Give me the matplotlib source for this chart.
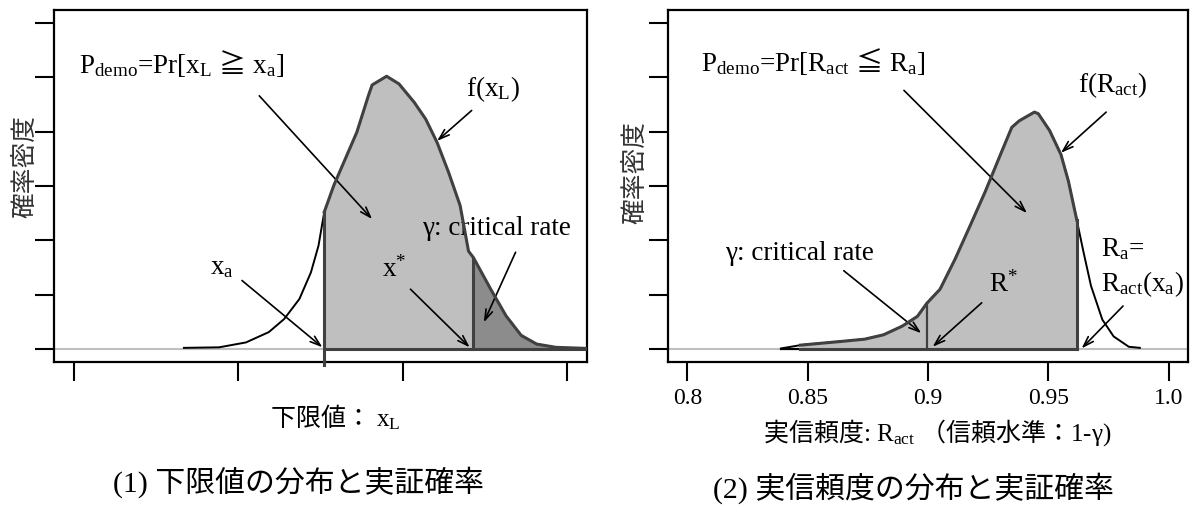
import numpy as np
import matplotlib
matplotlib.use('Agg')
import matplotlib.pyplot as plt

plt.rcParams['font.family'] = ['Liberation Serif', 'Noto Sans CJK JP']
plt.rcParams['mathtext.fontset'] = 'custom'
plt.rcParams['mathtext.rm'] = 'Liberation Serif'
plt.rcParams['mathtext.it'] = 'Liberation Serif:italic'
plt.rcParams['mathtext.sf'] = 'Noto Sans CJK JP'   # used for the CJK bits inside math strings
plt.rcParams['mathtext.fallback'] = 'stix'

# (1) density of the lower limit x_L
x_L = [0.67, 0.884, 1.047, 1.186, 1.279, 1.372, 1.442, 1.488, 1.523, 1.581,
       1.651, 1.721, 1.791, 1.814, 1.902, 1.977, 2.07, 2.14, 2.209, 2.279,
       2.349, 2.40, 2.43, 2.535, 2.628, 2.72, 2.814, 2.93, 3.116]
f_xL = [0.02, 0.03, 0.12, 0.31, 0.55, 0.92, 1.41, 1.90, 2.52, 3.01,
        3.50, 3.99, 4.66, 4.86, 5.02, 4.88, 4.54, 4.23, 3.80, 3.25,
        2.64, 1.80, 1.68, 1.10, 0.61, 0.25, 0.09, 0.03, 0.01]
x_a = 1.523
x_star = 2.43

# (2) density of the actual reliability R_act
R_act = [0.839, 0.847, 0.8643, 0.8737, 0.8815, 0.8893, 0.8956, 0.8995, 0.905,
         0.9113, 0.9176, 0.9238, 0.9301, 0.9348, 0.9379, 0.9442, 0.9458,
         0.9505, 0.9552, 0.9583, 0.9618, 0.9646, 0.9677, 0.9724, 0.9771,
         0.9834, 0.988]
f_R = [0.01, 0.07, 0.14, 0.18, 0.26, 0.42, 0.60, 0.84, 1.10,
       1.66, 2.28, 2.90, 3.58, 4.08, 4.20, 4.36, 4.33,
       4.02, 3.58, 3.09, 2.37, 1.78, 1.16, 0.54, 0.23,
       0.04, 0.02]
R_start = 0.847
R_star = 0.8995
R_a = 0.9618
R_ticks = [0.8, 0.85, 0.9, 0.95, 1.0]
R_ticklabels = ['0.8', '0.85', '0.9', '0.95', '1.0']

LIGHT = '#bfbfbf'
DARK = '#8c8c8c'
EDGE = '#404040'
ann = dict(fontsize=19.5)
arw = dict(arrowstyle='->,head_length=0.75,head_width=0.25', color='black', lw=1.2,
           shrinkA=0, shrinkB=0)

fig = plt.figure(figsize=(11.94, 5.12), dpi=100)
ax1 = fig.add_axes([0.0452, 0.293, 0.4464, 0.6875])
ax2 = fig.add_axes([0.5595, 0.293, 0.4355, 0.6875])

for ax in (ax1, ax2):
    for s in ax.spines.values():
        s.set_linewidth(1.6)
    ax.tick_params(direction='out', length=14, width=1.5, labelsize=17, pad=5)
    ax.set_yticks(range(7))
    ax.set_yticklabels([])
    ax.set_ylim(-0.24, 6.24)

# ---- panel 1
x = np.array(x_L)
y = np.array(f_xL)
ax1.axhline(0, color=LIGHT, lw=1.5, zorder=1)
left = x <= x_a
ax1.plot(x[left], y[left], color='black', lw=1.4, zorder=2)
m = x >= x_a
ax1.fill_between(x[m], 0, y[m], color=LIGHT, lw=0, zorder=2)
t = x >= x_star
ax1.fill_between(x[t], 0, y[t], color=DARK, lw=0, zorder=3)
ax1.plot(x[m], y[m], color=EDGE, lw=2.2, zorder=4)
ax1.plot([x_a, x[-1]], [0, 0], color=EDGE, lw=2.2, zorder=4)
ax1.plot([x_a, x_a], [-0.3, y[x == x_a][0]], color=EDGE, lw=2.2, zorder=4, clip_on=False)
ax1.plot([x_star, x_star], [0, y[x == x_star][0]], color=EDGE, lw=2.2, zorder=4)
ax1.set_xlim(-0.12, 3.12)
ax1.set_xticks([0, 1, 2, 3])
ax1.set_xticklabels([])

ax1.text(0.035, 5.25, 'P$_\\mathrm{demo}$=Pr[x$_\\mathrm{L}$ $\\mathsf{≧}$ x$_\\mathrm{a}$]',
         va='center', **ann)
ax1.annotate('', xy=(1.814, 2.39), xytext=(1.128, 4.66), arrowprops=arw)
ax1.text(2.384, 4.79, 'f(x$_\\mathrm{L}$)', va='center', **ann)
ax1.annotate('', xy=(2.209, 3.83), xytext=(2.419, 4.39), arrowprops=arw)
ax1.text(2.116, 2.21, 'γ: critical rate', va='center', **ann)
ax1.annotate('', xy=(2.493, 0.49), xytext=(2.686, 1.78), arrowprops=arw)
ax1.text(1.872, 1.47, 'x$^{\\mathrm{*}}$', va='center', **ann)
ax1.annotate('', xy=(2.407, 0.03), xytext=(2.047, 1.10), arrowprops=arw)
ax1.text(0.826, 1.50, 'x$_\\mathrm{a}$', va='center', **ann)
ax1.annotate('', xy=(1.512, 0.03), xytext=(1.023, 1.26), arrowprops=arw)

# ---- panel 2
r = np.array(R_act)
g = np.array(f_R)
ax2.axhline(0, color=LIGHT, lw=1.5, zorder=1)
ax2.plot(r, g, color='black', lw=1.4, zorder=2)
ax2.plot([r[0], 0.8643], [0, 0], color='black', lw=1.6, zorder=2)
m2 = (r >= R_start) & (r <= R_a)
ax2.fill_between(r[m2], 0, g[m2], color=LIGHT, lw=0, zorder=3)
ax2.plot(r[m2], g[m2], color=EDGE, lw=2.2, zorder=4)
ax2.plot([R_start, R_a], [0, 0], color=EDGE, lw=2.2, zorder=4)
ax2.plot([R_a, R_a], [0, g[r == R_a][0]], color=EDGE, lw=2.2, zorder=4)
ax2.plot([R_star, R_star], [0, g[r == R_star][0]], color=EDGE, lw=1.6, zorder=4)
ax2.set_xlim(0.792, 1.008)
ax2.set_xticks(R_ticks)
ax2.set_xticklabels(R_ticklabels)

ax2.text(0.8055, 5.29, 'P$_\\mathrm{demo}$=Pr[R$_\\mathrm{act}$ $\\mathsf{≦}$ R$_\\mathrm{a}$]',
         va='center', **ann)
ax2.annotate('', xy=(0.9411, 2.50), xytext=(0.890, 4.76), arrowprops=arw)
ax2.text(0.9622, 4.86, 'f(R$_\\mathrm{act}$)', va='center', **ann)
ax2.annotate('', xy=(0.9552, 3.61), xytext=(0.974, 4.36), arrowprops=arw)
ax2.text(0.8157, 1.75, 'γ: critical rate', va='center', **ann)
ax2.annotate('', xy=(0.8972, 0.29), xytext=(0.865, 1.44), arrowprops=arw)
ax2.text(0.9254, 1.19, 'R$^{\\mathrm{*}}$', va='center', **ann)
ax2.annotate('', xy=(0.9019, 0.04), xytext=(0.9223, 0.85), arrowprops=arw)
ax2.text(0.9717, 1.84, 'R$_\\mathrm{a}$=', va='center', **ann)
ax2.text(0.9717, 1.19, 'R$_\\mathrm{act}$(x$_\\mathrm{a}$)', va='center', **ann)
ax2.annotate('', xy=(0.9638, 0.01), xytext=(0.981, 0.79), arrowprops=arw)

# labels
fig.text(0.021, 0.674, '確率密度', rotation=90, ha='center', va='center',
         fontsize=18.5, color='#333333', family='Noto Sans CJK JP')
fig.text(0.532, 0.664, '確率密度', rotation=90, ha='center', va='center',
         fontsize=18.5, color='#333333', family='Noto Sans CJK JP')
fig.text(0.281, 1 - 417 / 512, '$\\mathsf{下限値：}$ x$_\\mathrm{L}$',
         ha='center', va='center', fontsize=18)
fig.text(0.785, 1 - 433 / 512, '$\\mathsf{実信頼度}$: R$_\\mathrm{act}$ $\\mathsf{（信頼水準：}$1-γ)',
         ha='center', va='center', fontsize=18)
fig.text(0.25, 1 - 482 / 512, '(1) 下限値の分布と実証確率', ha='center', va='center', fontsize=21.5)
fig.text(0.765, 1 - 488 / 512, '(2) 実信頼度の分布と実証確率', ha='center', va='center', fontsize=21.5)

fig.savefig('out.png', dpi=100)
